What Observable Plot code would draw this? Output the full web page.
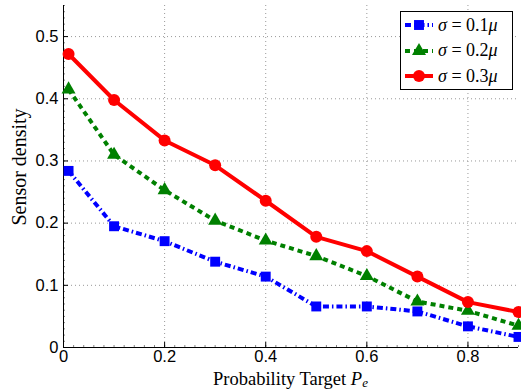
<!DOCTYPE html>
<html>
<head>
<meta charset="utf-8">
<script src="https://cdn.jsdelivr.net/npm/d3@7"></script>
<script src="https://cdn.jsdelivr.net/npm/@observablehq/plot@0.6"></script>
<style>
  html, body { margin: 0; padding: 0; background: #fff; }
  #wrap { position: relative; width: 521px; height: 391px; }
  #legend { position: absolute; left: 400px; top: 11px; width: 111px; height: 77px;
    border: 1.5px solid #000; background: #fff; font-family: "Liberation Serif", "DejaVu Serif", serif; font-size: 18px; }
  .row { position: absolute; left: 3px; height: 20px; display: flex; align-items: center; }
  .row svg { display: block; }
  .row span { margin-left: 4px; white-space: nowrap; }
</style>
</head>
<body>
<div id="wrap"></div>
<script>
const xs = [0.01, 0.1, 0.2, 0.3, 0.4, 0.5, 0.6, 0.7, 0.8, 0.9];
const sigma01 = [0.284, 0.195, 0.171, 0.138, 0.114, 0.066, 0.066, 0.058, 0.034, 0.017];
const sigma02 = [0.415, 0.310, 0.253, 0.204, 0.172, 0.147, 0.115, 0.074, 0.059, 0.035];
const sigma03 = [0.472, 0.398, 0.333, 0.293, 0.236, 0.178, 0.155, 0.114, 0.073, 0.057];
const seriesNames = ["σ = 0.1μ", "σ = 0.2μ", "σ = 0.3μ"];
const xTicks = [0, 0.2, 0.4, 0.6, 0.8];
const yTicks = [0, 0.1, 0.2, 0.3, 0.4, 0.5];
const xMinor = d3.range(0, 0.9001, 0.02);
const yMinor = d3.range(0, 0.5501, 0.01);

const styles = [
  {color: "#0000ff", dash: "6,3,1.5,3", symbol: "square", r: 5.6},
  {color: "#008000", dash: "5,4", symbol: "triangle", r: 5.2},
  {color: "#ff0000", dash: null, symbol: "circle", r: 6}
];
const allSeries = [sigma01, sigma02, sigma03];
const data = allSeries.map((vals, i) => xs.map((x, j) => ({x, y: vals[j], s: seriesNames[i]})));

const W = 521, H = 391, mL = 63, mR = 3, mT = 5, mB = 44;
const innerH = H - mT - mB, innerW = W - mL - mR;

const marks = [
  Plot.ruleX(xTicks.filter(d => d > 0), {x: d => d, stroke: "#999", strokeDasharray: "1,3", strokeWidth: 1}),
  Plot.ruleY(yTicks.filter(d => d > 0), {y: d => d, stroke: "#999", strokeDasharray: "1,3", strokeWidth: 1}),
  Plot.tickX(xMinor, {x: d => d, insetTop: innerH - 2, stroke: "#333", strokeWidth: 0.6}),
  Plot.tickY(yMinor, {y: d => d, insetRight: innerW - 2, stroke: "#333", strokeWidth: 0.6}),
  Plot.tickX(xTicks, {x: d => d, insetTop: innerH - 5, stroke: "#000", strokeWidth: 1}),
  Plot.tickY(yTicks, {y: d => d, insetRight: innerW - 5, stroke: "#000", strokeWidth: 1}),
  Plot.axisX({ticks: xTicks, tickSize: 0, tickPadding: 3, tickFormat: d => String(d), fontSize: 16.5, label: null}),
  Plot.axisY({ticks: yTicks, tickSize: 0, tickPadding: 5, tickFormat: d => String(d), fontSize: 16.5, label: null}),
  Plot.ruleX([0], {stroke: "#000", strokeWidth: 1}),
  Plot.ruleY([0], {stroke: "#000", strokeWidth: 1})
];
data.forEach((d, i) => {
  const st = styles[i];
  marks.push(Plot.line(d, {x: "x", y: "y", stroke: st.color, strokeWidth: 4, strokeDasharray: st.dash, strokeLinecap: "butt"}));
  marks.push(Plot.dot(d, {x: "x", y: "y", symbol: () => st.symbol, fill: st.color, stroke: "none", r: st.r}));
});

const chart = Plot.plot({
  width: W, height: H,
  marginLeft: mL, marginRight: mR, marginTop: mT, marginBottom: mB,
  x: {domain: [0, 0.9]},
  y: {domain: [0, 0.55]},
  style: {fontFamily: "Liberation Sans, Arial, sans-serif", fontSize: "16.5px", color: "#000", background: "#fff"},
  marks
});
const wrap = document.getElementById("wrap");
wrap.appendChild(chart);

// axis labels
const svg = d3.select(chart);
svg.append("text")
  .attr("x", mL + innerW / 2).attr("y", H - 6)
  .attr("text-anchor", "middle")
  .attr("font-family", "Liberation Serif, DejaVu Serif, serif")
  .attr("font-size", 18.5)
  .html('Probability Target <tspan font-style="italic">P</tspan><tspan font-style="italic" font-size="13" dy="2">e</tspan>');
svg.append("text")
  .attr("transform", `translate(26,${mT + innerH / 2 - 9}) rotate(-90)`)
  .attr("text-anchor", "middle")
  .attr("font-family", "Liberation Serif, DejaVu Serif, serif")
  .attr("font-size", 20)
  .text("Sensor density");

// legend
const legend = document.createElement("div");
legend.id = "legend";
seriesNames.forEach((name, i) => {
  const st = styles[i];
  const row = document.createElement("div");
  row.className = "row";
  row.style.top = (3 + i * 25.5) + "px";
  const ns = "http://www.w3.org/2000/svg";
  const s = document.createElementNS(ns, "svg");
  s.setAttribute("width", 30); s.setAttribute("height", 20);
  const ln = document.createElementNS(ns, "line");
  ln.setAttribute("x1", 1); ln.setAttribute("x2", 29); ln.setAttribute("y1", 10); ln.setAttribute("y2", 10);
  ln.setAttribute("stroke", st.color); ln.setAttribute("stroke-width", 4);
  if (st.dash) ln.setAttribute("stroke-dasharray", st.dash);
  s.appendChild(ln);
  const p = document.createElementNS(ns, "path");
  const sym = {square: d3.symbolSquare, triangle: d3.symbolTriangle, circle: d3.symbolCircle}[st.symbol];
  p.setAttribute("d", d3.symbol(sym, Math.PI * st.r * st.r)());
  p.setAttribute("transform", "translate(15,10)");
  p.setAttribute("fill", st.color);
  s.appendChild(p);
  row.appendChild(s);
  const t = document.createElement("span");
  const parts = name.split(" ");
  t.innerHTML = '<i>σ</i> = ' + parts[2].replace("μ", "<i>μ</i>");
  row.appendChild(t);
  legend.appendChild(row);
});
wrap.appendChild(legend);
</script>
</body>
</html>
